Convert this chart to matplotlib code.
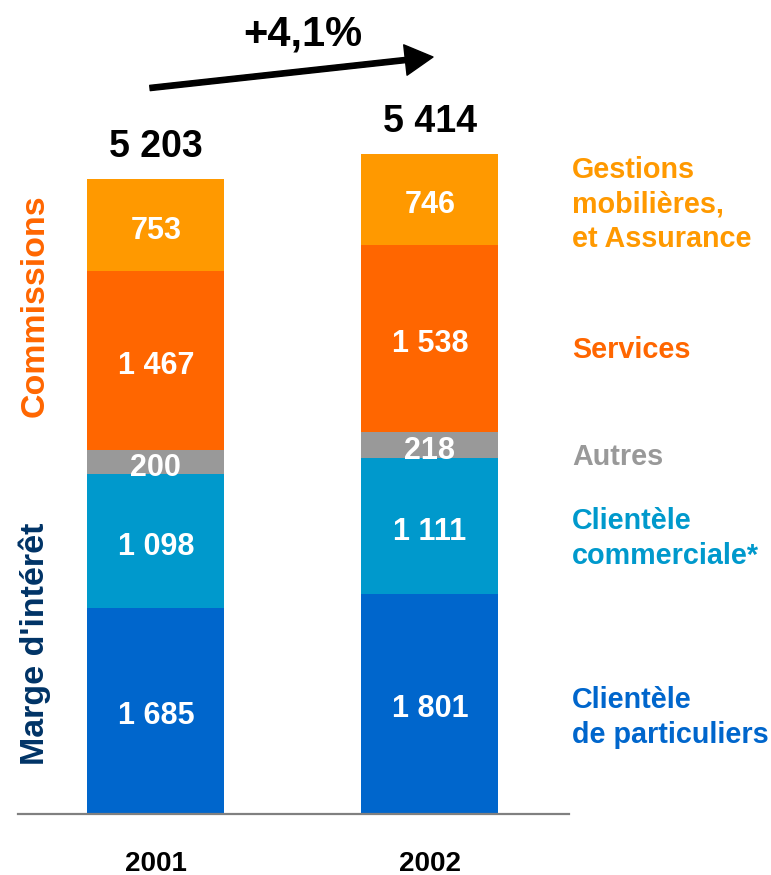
import matplotlib.pyplot as plt
import numpy as np

plt.rcParams['font.family'] = ['Liberation Sans', 'DejaVu Sans']
plt.rcParams['font.weight'] = 'bold'

# Données (millions)
years = ["2001", "2002"]
particuliers = [1685, 1801]
commerciale = [1098, 1111]
autres = [200, 218]
services = [1467, 1538]
gestions = [753, 746]
totals = ["5 203", "5 414"]
growth_label = "+4,1%"

series = [particuliers, commerciale, autres, services, gestions]
colors = ["#0066CC", "#0099CC", "#999999", "#FF6600", "#FF9900"]
labels = ["Clientèle\nde particuliers", "Clientèle\ncommerciale*", "Autres",
          "Services", "Gestions\nmobilières,\net Assurance"]
label_dy = [-10, -9, -8.5, -8.5, -4]  # décalage vertical (points)


def fmt(v):
    return f"{v:,}".replace(",", " ")


fig = plt.figure(figsize=(7.71, 8.75), dpi=100)
ax = fig.add_axes([0, 62 / 875, 1, 0.835])
ax.set_xlim(-0.569, 2.245)
ax.set_ylim(0, 6000)
ax.axis("off")

x = np.arange(len(years))
bottom = np.zeros(len(years))
for vals, col in zip(series, colors):
    ax.bar(x, vals, width=0.5, bottom=bottom, color=col, linewidth=0)
    for xi, b, v in zip(x, bottom, vals):
        ax.annotate(fmt(v), (xi, b + v / 2), xytext=(0, -4.3),
                    textcoords="offset points", ha="center", va="center",
                    color="white", fontsize=22, fontweight="bold")
    bottom += vals

# totaux au-dessus des barres
for xi, top, t in zip(x, bottom, totals):
    ax.annotate(t, (xi, top), xytext=(0, 23), textcoords="offset points",
                ha="center", va="center", fontsize=27, fontweight="bold")

# étiquettes à droite (alignées sur la barre 2002)
b = 0
for vals, col, lab, dy in zip(series, colors, labels, label_dy):
    ax.annotate(lab, (1.52, b + vals[1] / 2), xytext=(0, dy),
                textcoords="offset points", ha="left", va="center", color=col,
                fontsize=20.7, fontweight="bold", linespacing=1.3)
    b += vals[1]

# années
for xi, yr in zip(x, years):
    ax.annotate(yr, (xi, 0), xytext=(0, -36.5), textcoords="offset points",
                ha="center", va="center", fontsize=20, fontweight="bold")

# ligne de base
fig.add_artist(plt.Line2D([18 / 771, 569 / 771], [61 / 875, 61 / 875],
                          color="#808080", lw=1.6))

# titres verticaux
fig.text(35 / 771, 1 - 306 / 875, "Commissions", rotation=90, ha="center",
         va="center", color="#FF6600", fontsize=24.5, fontweight="bold")
fig.text(35 / 771, 1 - 644 / 875, "Marge d'intérêt", rotation=90, ha="center",
         va="center", color="#003366", fontsize=24.5, fontweight="bold")

# flèche de croissance
ax.annotate("", xy=(433, 875 - 57), xycoords="figure pixels",
            xytext=(150, 875 - 88), textcoords="figure pixels",
            arrowprops=dict(width=3.8, headwidth=22, headlength=20,
                            facecolor="black", edgecolor="black"))
fig.text(303 / 771, 1 - 34 / 875, growth_label, ha="center", va="center",
         fontsize=30, fontweight="bold")

fig.savefig("out.png", dpi=100)
plt.close()
